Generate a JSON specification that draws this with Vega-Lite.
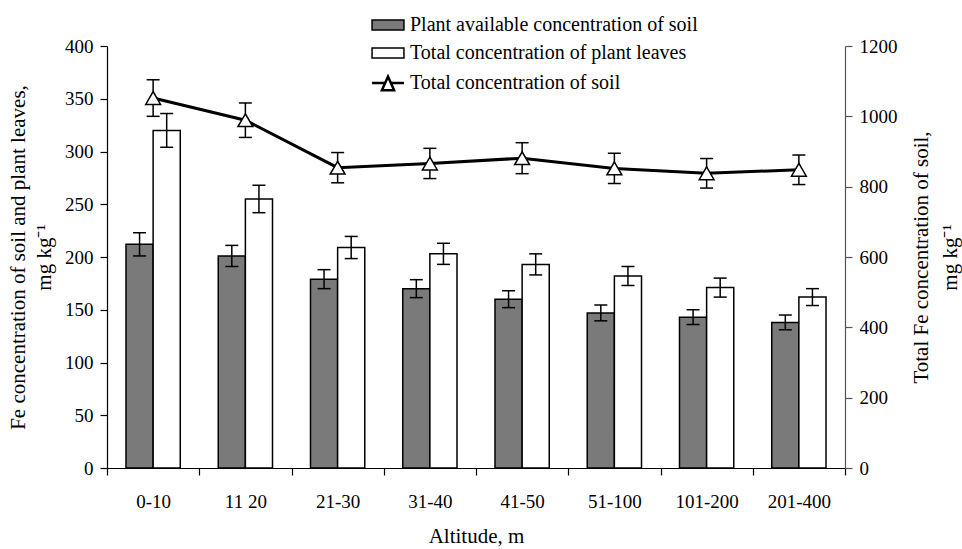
{
  "$schema": "https://vega.github.io/schema/vega-lite/v6.json",
  "width": 738,
  "height": 422,
  "autosize": {"type": "none"},
  "padding": {"left": 107, "top": 46, "right": 117, "bottom": 81},
  "background": "white",
  "config": {
    "view": {"stroke": null},
    "font": "Liberation Serif, Times New Roman, serif",
    "style": {
      "guide-label": {"font": "Liberation Serif, Times New Roman, serif"},
      "guide-title": {"font": "Liberation Serif, Times New Roman, serif"}
    },
    "axis": {
      "labelFont": "Liberation Serif, Times New Roman, serif",
      "titleFont": "Liberation Serif, Times New Roman, serif",
      "labelFontSize": 19,
      "titleFontSize": 21,
      "labelColor": "black",
      "titleColor": "black",
      "titleFontWeight": "normal",
      "domainColor": "black",
      "tickColor": "black",
      "domainWidth": 1.2,
      "tickWidth": 1.2,
      "grid": false
    },
    "legend": {
      "orient": "none",
      "legendX": 271,
      "legendY": -31,
      "padding": 0,
      "title": null,
      "symbolSize": 841,
      "labelFont": "Liberation Serif, Times New Roman, serif",
      "labelFontSize": 20,
      "labelColor": "black",
      "labelLimit": 400,
      "labelOffset": 12,
      "rowPadding": 8,
      "symbolStrokeColor": "black",
      "symbolStrokeWidth": 1.5
    }
  },
  "datasets": {
    "bars": [
      {"altitude": "0-10", "series": "Plant available concentration of soil", "value": 212, "lo": 201, "hi": 223},
      {"altitude": "0-10", "series": "Total concentration of plant leaves", "value": 320, "lo": 304, "hi": 336},
      {"altitude": "11 20", "series": "Plant available concentration of soil", "value": 201, "lo": 191, "hi": 211},
      {"altitude": "11 20", "series": "Total concentration of plant leaves", "value": 255, "lo": 242, "hi": 268},
      {"altitude": "21-30", "series": "Plant available concentration of soil", "value": 179, "lo": 170, "hi": 188},
      {"altitude": "21-30", "series": "Total concentration of plant leaves", "value": 209, "lo": 198.5, "hi": 219.5},
      {"altitude": "31-40", "series": "Plant available concentration of soil", "value": 170, "lo": 161.5, "hi": 178.5},
      {"altitude": "31-40", "series": "Total concentration of plant leaves", "value": 203, "lo": 193, "hi": 213},
      {"altitude": "41-50", "series": "Plant available concentration of soil", "value": 160, "lo": 152, "hi": 168},
      {"altitude": "41-50", "series": "Total concentration of plant leaves", "value": 193, "lo": 183, "hi": 203},
      {"altitude": "51-100", "series": "Plant available concentration of soil", "value": 147, "lo": 139.5, "hi": 154.5},
      {"altitude": "51-100", "series": "Total concentration of plant leaves", "value": 182, "lo": 173, "hi": 191},
      {"altitude": "101-200", "series": "Plant available concentration of soil", "value": 143, "lo": 136, "hi": 150},
      {"altitude": "101-200", "series": "Total concentration of plant leaves", "value": 171, "lo": 162, "hi": 180},
      {"altitude": "201-400", "series": "Plant available concentration of soil", "value": 138, "lo": 131, "hi": 145},
      {"altitude": "201-400", "series": "Total concentration of plant leaves", "value": 162, "lo": 154, "hi": 170}
    ],
    "soil": [
      {"altitude": "0-10", "value": 1052, "lo": 1000, "hi": 1104},
      {"altitude": "11 20", "value": 989, "lo": 940, "hi": 1038},
      {"altitude": "21-30", "value": 854, "lo": 811, "hi": 897},
      {"altitude": "31-40", "value": 866, "lo": 823, "hi": 909},
      {"altitude": "41-50", "value": 881, "lo": 837, "hi": 925},
      {"altitude": "51-100", "value": 852, "lo": 809, "hi": 895},
      {"altitude": "101-200", "value": 838, "lo": 796, "hi": 880},
      {"altitude": "201-400", "value": 848, "lo": 806, "hi": 890}
    ]
  },
  "layer": [
    {
      "data": {"name": "bars"},
      "encoding": {
        "x": {
          "field": "altitude",
          "type": "nominal",
          "sort": null,
          "scale": {
            "domain": ["0-10", "11 20", "21-30", "31-40", "41-50", "51-100", "101-200", "201-400"],
            "paddingInner": 0,
            "paddingOuter": 0
          },
          "axis": {
            "title": "Altitude, m",
            "labelAngle": 0,
            "tickBand": "extent",
            "tickSize": 7,
            "labelPadding": 17,
            "titlePadding": 14
          }
        },
        "xOffset": {
          "field": "series",
          "type": "nominal",
          "scale": {
            "domain": ["Plant available concentration of soil", "Total concentration of plant leaves"],
            "paddingInner": 0,
            "paddingOuter": 0.7
          }
        }
      },
      "layer": [
        {
          "mark": {"type": "bar", "stroke": "black", "strokeWidth": 1.5},
          "encoding": {
            "y": {
              "field": "value",
              "type": "quantitative",
              "scale": {"domain": [0, 400]},
              "axis": {
                "title": ["Fe concentration of soil and plant leaves,", "mg kg⁻¹"],
                "values": [0, 50, 100, 150, 200, 250, 300, 350, 400],
                "tickSize": 7,
                "labelPadding": 7,
                "titlePadding": 10,
                "titleLineHeight": 26
              }
            },
            "fill": {
              "field": "series",
              "type": "nominal",
              "scale": {
                "domain": ["Plant available concentration of soil", "Total concentration of plant leaves", "Total concentration of soil"],
                "range": ["#7a7a7a", "#ffffff", "#ffffff"]
              },
              "legend": {
                "labelFont": "Liberation Serif, Times New Roman, serif",
                "labelFontSize": 20,
                "encode": {
                  "symbols": {
                    "update": {
                      "shape": {"signal": "datum.value === 'Total concentration of soil' ? 'M-1.1,0H-0.2M0.2,0H1.1M0,-0.45L0.42,0.5L-0.42,0.5Z' : 'M-1.1,-0.34H1.1V0.34H-1.1Z'"},
                      "strokeWidth": {"signal": "datum.value === 'Total concentration of soil' ? 2.5 : 1.5"},
                      "stroke": {"value": "black"}
                    }
                  }
                }
              }
            }
          }
        },
        {
          "mark": {"type": "rule", "color": "black", "strokeWidth": 1.5},
          "encoding": {
            "y": {"field": "lo", "type": "quantitative", "scale": {"domain": [0, 400]}},
            "y2": {"field": "hi"}
          }
        },
        {
          "mark": {"type": "tick", "color": "black", "thickness": 1.5, "size": 13, "opacity": 1},
          "encoding": {
            "y": {"field": "lo", "type": "quantitative", "scale": {"domain": [0, 400]}}
          }
        },
        {
          "mark": {"type": "tick", "color": "black", "thickness": 1.5, "size": 13, "opacity": 1},
          "encoding": {
            "y": {"field": "hi", "type": "quantitative", "scale": {"domain": [0, 400]}}
          }
        }
      ]
    },
    {
      "data": {"name": "soil"},
      "encoding": {
        "x": {"field": "altitude", "type": "nominal", "sort": null}
      },
      "layer": [
        {
          "mark": {"type": "rule", "color": "black", "strokeWidth": 1.5},
          "encoding": {
            "y": {
              "field": "lo",
              "type": "quantitative",
              "scale": {"domain": [0, 1200]},
              "axis": {
                "orient": "right",
                "title": ["Total Fe concentration of soil,", "mg kg⁻¹"],
                "values": [0, 200, 400, 600, 800, 1000, 1200],
                "format": "d",
                "tickSize": 7,
                "labelPadding": 7,
                "titleAngle": 270,
                "titleBaseline": "top",
                "titleX": 65,
                "titleY": 211,
                "titleLineHeight": 29,
                "domainColor": "#555555",
                "tickColor": "#555555"
              }
            },
            "y2": {"field": "hi"}
          }
        },
        {
          "mark": {"type": "tick", "color": "black", "thickness": 1.5, "size": 13, "opacity": 1},
          "encoding": {
            "y": {"field": "lo", "type": "quantitative", "scale": {"domain": [0, 1200]}}
          }
        },
        {
          "mark": {"type": "tick", "color": "black", "thickness": 1.5, "size": 13, "opacity": 1},
          "encoding": {
            "y": {"field": "hi", "type": "quantitative", "scale": {"domain": [0, 1200]}}
          }
        },
        {
          "mark": {"type": "line", "color": "black", "strokeWidth": 3},
          "encoding": {
            "y": {"field": "value", "type": "quantitative", "scale": {"domain": [0, 1200]}}
          }
        },
        {
          "mark": {"type": "point", "shape": "triangle-up", "filled": true, "fill": "white", "stroke": "black", "strokeWidth": 1.5, "size": 220, "opacity": 1},
          "encoding": {
            "y": {"field": "value", "type": "quantitative", "scale": {"domain": [0, 1200]}}
          }
        }
      ]
    }
  ],
  "resolve": {"scale": {"y": "independent"}, "axis": {"y": "independent"}}
}
